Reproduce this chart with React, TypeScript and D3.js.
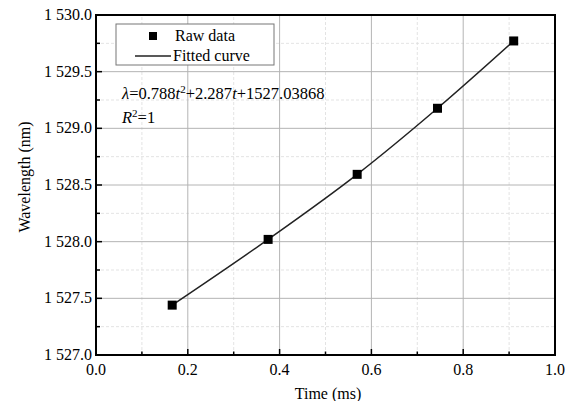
import React from 'react';
import * as d3 from 'd3';

const timeMs = [0.166, 0.375, 0.569, 0.744, 0.91];
const wavelengthNm = [1527.44, 1528.02, 1528.594, 1529.177, 1529.771];

const xTicks = [0, 0.2, 0.4, 0.6, 0.8, 1.0];
const xMinor = [0.1, 0.3, 0.5, 0.7, 0.9];
const yTicks = [1527.0, 1527.5, 1528.0, 1528.5, 1529.0, 1529.5, 1530.0];
const yMinor = [1527.25, 1527.75, 1528.25, 1528.75, 1529.25, 1529.75];

const W = 574;
const H = 401;
const margin = { top: 15, right: 19, bottom: 46, left: 96 };
const font = '"Liberation Serif", "Times New Roman", serif';

const fmtY = (v: number) => {
  const s = v.toFixed(1);
  return s.slice(0, 1) + ' ' + s.slice(1);
};

export default function App() {
  const x = d3.scaleLinear().domain([0, 1]).range([margin.left, W - margin.right]);
  const y = d3.scaleLinear().domain([1527, 1530]).range([H - margin.bottom, margin.top]);
  const x0 = x.range()[0], x1 = x.range()[1];
  const y0 = y.range()[0], y1 = y.range()[1];

  const pts = timeMs.map((t, i) => [t, wavelengthNm[i]] as [number, number]);
  const line = d3.line<[number, number]>()
    .x(d => x(d[0]))
    .y(d => y(d[1]))
    .curve(d3.curveMonotoneX);

  return (
    <svg width={W} height={H} style={{ position: 'fixed', left: 0, top: 0, background: '#fff' }}
      fontFamily={font}>
      {/* minor grid */}
      {xMinor.map(v => (
        <line key={'xm' + v} x1={x(v)} x2={x(v)} y1={y0} y2={y1} stroke="#dcdcdc" strokeWidth={0.8} strokeDasharray="3,2" />
      ))}
      {yMinor.map(v => (
        <line key={'ym' + v} x1={x0} x2={x1} y1={y(v)} y2={y(v)} stroke="#dcdcdc" strokeWidth={0.8} strokeDasharray="3,2" />
      ))}
      {/* major grid */}
      {xTicks.slice(1, -1).map(v => (
        <line key={'xg' + v} x1={x(v)} x2={x(v)} y1={y0} y2={y1} stroke="#b4b4b4" strokeWidth={1} />
      ))}
      {yTicks.slice(1, -1).map(v => (
        <line key={'yg' + v} x1={x0} x2={x1} y1={y(v)} y2={y(v)} stroke="#b4b4b4" strokeWidth={1} />
      ))}

      {/* ticks, inward */}
      {xTicks.map(v => (
        <line key={'xt' + v} x1={x(v)} x2={x(v)} y1={y0} y2={y0 - 6} stroke="#000" strokeWidth={1.5} />
      ))}
      {xMinor.map(v => (
        <line key={'xmt' + v} x1={x(v)} x2={x(v)} y1={y0} y2={y0 - 3.5} stroke="#000" strokeWidth={1.5} />
      ))}
      {yTicks.map(v => (
        <line key={'yt' + v} x1={x0} x2={x0 + 6} y1={y(v)} y2={y(v)} stroke="#000" strokeWidth={1.5} />
      ))}
      {yMinor.map(v => (
        <line key={'ymt' + v} x1={x0} x2={x0 + 4} y1={y(v)} y2={y(v)} stroke="#000" strokeWidth={1.5} />
      ))}

      {/* frame */}
      <rect x={x0} y={y1} width={x1 - x0} height={y0 - y1} fill="none" stroke="#000" strokeWidth={2} />

      {/* tick labels */}
      {xTicks.map(v => (
        <text key={'xl' + v} x={x(v)} y={y0 + 20} textAnchor="middle" fontSize={16} fill="#000">
          {v.toFixed(1)}
        </text>
      ))}
      {yTicks.map(v => (
        <text key={'yl' + v} x={x0 - 4} y={y(v) + 5} textAnchor="end" fontSize={16} fill="#000">
          {fmtY(v)}
        </text>
      ))}

      {/* axis titles */}
      <text x={328} y={399} textAnchor="middle" fontSize={16} fill="#000">Time (ms)</text>
      <text transform={`translate(30,177) rotate(-90)`} textAnchor="middle" fontSize={16} fill="#000">
        Wavelength (nm)
      </text>

      {/* fitted curve and raw points */}
      <path d={line(pts) || ''} fill="none" stroke="#222" strokeWidth={1.5} />
      {pts.map((d, i) => (
        <rect key={'p' + i} x={x(d[0]) - 4.5} y={y(d[1]) - 4.5} width={9} height={9} fill="#000" />
      ))}

      {/* legend */}
      <rect x={116} y={24} width={158} height={41} fill="#fff" stroke="#777" strokeWidth={1} />
      <rect x={149} y={32} width={8} height={8} fill="#000" />
      <text x={175} y={41} fontSize={16} fill="#000">Raw data</text>
      <line x1={135} x2={171} y1={56} y2={56} stroke="#222" strokeWidth={1.5} />
      <text x={173} y={61} fontSize={16} fill="#000">Fitted curve</text>

      {/* fit annotation */}
      <text x={122} y={99} fontSize={16.5} fill="#000">
        <tspan fontStyle="italic">λ</tspan>=0.788<tspan fontStyle="italic">t</tspan>
        <tspan dy={-6} fontSize={11}>2</tspan>
        <tspan dy={6}>+2.287</tspan><tspan fontStyle="italic">t</tspan>+1527.03868
      </text>
      <text x={122} y={123} fontSize={16.5} fill="#000">
        <tspan fontStyle="italic">R</tspan>
        <tspan dy={-6} fontSize={11}>2</tspan>
        <tspan dy={6}>=1</tspan>
      </text>
    </svg>
  );
}
